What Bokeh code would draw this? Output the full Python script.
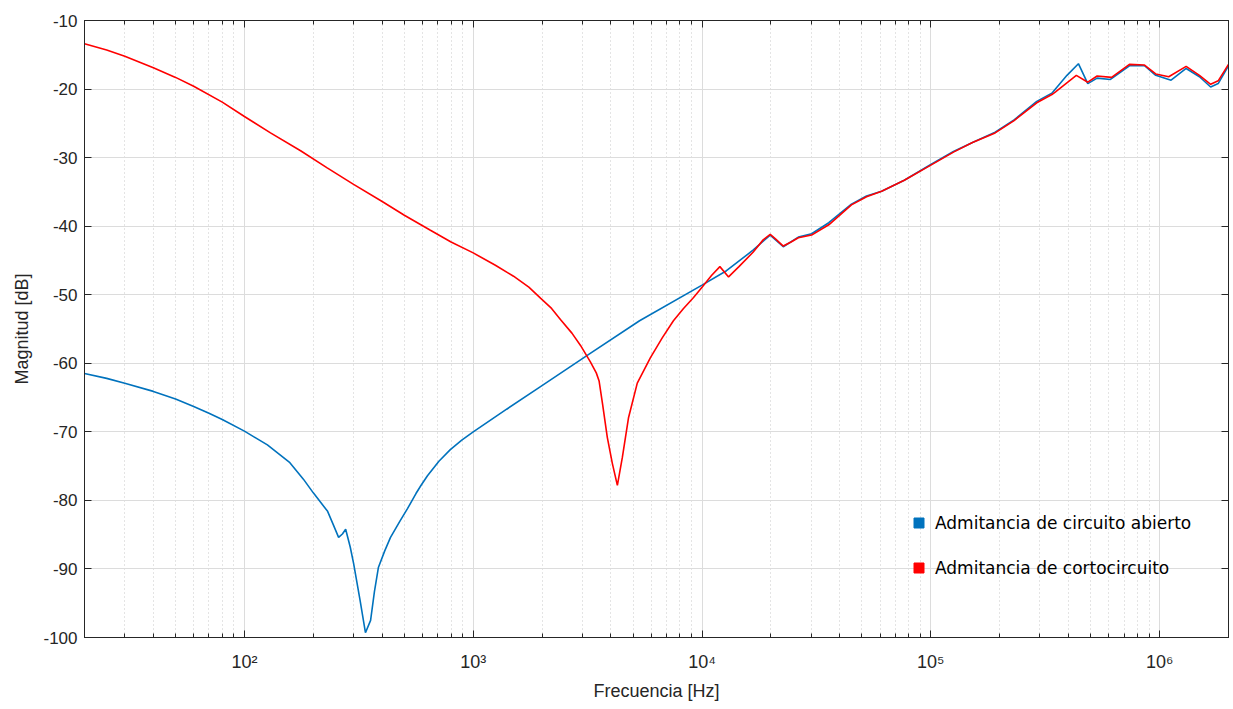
from bokeh.plotting import figure
from bokeh.models import (Range1d, FixedTicker, LogAxis, LinearAxis, Legend, LegendItem,
                          CustomJSTickFormatter)
from bokeh.embed import file_html
from bokeh.resources import INLINE

# ---- data ----
freq_open = [20, 25, 30, 40, 50, 60, 70, 80, 100, 126, 158, 181, 200, 231, 245, 258, 268,
             277, 290, 300, 320, 338, 356, 370, 385, 410, 435, 479, 516, 562, 589, 631,
             708, 794, 891, 1000, 1400, 1968, 3162, 5333, 10000, 12790,
             16710, 19860, 22650, 26360, 30130, 35810, 44980, 52360, 60950, 76560,
             100000, 125600, 152100, 191000, 231200, 290400, 338100, 393600, 441600,
             485300, 533300, 609500, 738000, 859000, 961600, 1122000, 1306000,
             1493000, 1671000, 1803000, 2000000]
mag_open = [-61.5, -62.2, -62.9, -64.1, -65.2, -66.3, -67.3, -68.2, -69.9, -71.9, -74.5,
            -76.9, -78.9, -81.6, -83.6, -85.4, -84.9, -84.2, -86.8, -89.2, -94.5, -99.3,
            -97.5, -93.3, -89.8, -87.4, -85.4, -83.0, -81.2, -79.0, -77.9, -76.4,
            -74.3, -72.6, -71.2, -70.0, -66.7, -63.4, -58.8, -53.8, -48.6, -46.5, -43.5,
            -41.3, -43.0, -41.6, -41.1, -39.5, -36.8, -35.6, -34.9, -33.3, -31.0, -29.1,
            -27.8, -26.3, -24.5, -21.8, -20.6, -18.0, -16.3, -19.2, -18.4, -18.6, -16.6,
            -16.6, -18.0, -18.7, -17.0, -18.2, -19.7, -19.2, -16.6]

freq_short = [20, 25, 30, 40, 50, 60, 80, 100, 130, 176, 230, 300, 400, 500, 650, 800,
              1000, 1250, 1500, 1750, 1968, 2200, 2405, 2700, 2944, 3251, 3450, 3550,
              3673, 3855, 4055, 4266, 4487, 4775, 5212, 5943, 6700, 7499, 8300, 9183,
              10000, 11000, 11970, 13060, 14500, 16710, 18500, 19860, 21000, 22650,
              24500, 26360, 30130, 35810, 44980, 52360,
              60950, 76560, 100000, 125600, 152100, 191000, 231200, 290400, 338100,
              350800, 432500, 485300, 533300, 616600, 738000, 859000, 961600, 1096000,
              1306000, 1493000, 1671000, 1803000, 2000000]
mag_short = [-13.4, -14.3, -15.2, -16.9, -18.3, -19.6, -21.9, -24.0, -26.4, -29.0, -31.5,
             -33.9, -36.4, -38.4, -40.6, -42.3, -43.9, -45.7, -47.3, -48.9, -50.5, -52.0,
             -53.6, -55.6, -57.4, -59.8, -61.4, -62.6, -65.9, -70.8, -74.6, -77.8, -73.7,
             -67.9, -62.9, -59.2, -56.3, -53.8, -52.0, -50.4, -48.9, -47.2, -45.9, -47.4,
             -45.9, -43.8, -42.0, -41.2, -41.9, -42.9, -42.3, -41.7, -41.3, -39.8, -36.9,
             -35.7, -34.9, -33.3, -31.1, -29.2, -27.8, -26.4, -24.6, -22.0, -20.8, -20.4,
             -18.0, -19.0, -18.1, -18.3, -16.4, -16.5, -17.8, -18.2, -16.7, -18.0, -19.3,
             -18.8, -16.4]

series_labels = ["Admitancia de circuito abierto", "Admitancia de cortocircuito"]
series_colors = ["#0072BD", "#FF0000"]

x_major = [1e2, 1e3, 1e4, 1e5, 1e6]
y_major = [-100, -90, -80, -70, -60, -50, -40, -30, -20, -10]
x_minor = [k * d for d in [1e1, 1e2, 1e3, 1e4, 1e5, 1e6] for k in range(2, 10)
           if 20 <= k * d <= 2e6]

AX = "#262626"
FONT = "Liberation Sans"

p = figure(width=1233, height=709, x_axis_type="log",
           x_range=Range1d(20, 2e6), y_range=Range1d(-100, -10),
           output_backend="svg", toolbar_location=None,
           min_border_left=84, min_border_right=5, min_border_top=20, min_border_bottom=72)
p.background_fill_color = "white"
p.border_fill_color = "white"
p.outline_line_color = AX
p.outline_line_width = 1

xfmt = CustomJSTickFormatter(code="""
const sup = {'0':'\u2070','1':'\u00b9','2':'\u00b2','3':'\u00b3','4':'\u2074','5':'\u2075','6':'\u2076','7':'\u2077','8':'\u2078','9':'\u2079','-':'\u207b'};
const e = Math.round(Math.log10(tick));
return '10' + String(e).split('').map(c => sup[c]).join('');
""")
yfmt = CustomJSTickFormatter(code="return String(Math.round(tick));")

xt = FixedTicker(ticks=x_major, minor_ticks=x_minor)
yt = FixedTicker(ticks=y_major, minor_ticks=[])

def style_axis(ax, labels=True):
    ax.axis_line_color = AX
    ax.major_tick_line_color = AX
    ax.minor_tick_line_color = AX
    ax.major_tick_in = 7
    ax.major_tick_out = 0
    ax.minor_tick_in = 4
    ax.minor_tick_out = 0
    ax.major_label_text_font = FONT
    ax.major_label_text_color = AX
    ax.major_label_text_font_size = "17px"
    ax.axis_label_text_font = FONT
    ax.axis_label_text_font_style = "normal"
    ax.axis_label_text_color = AX
    ax.axis_label_text_font_size = "18px"
    if not labels:
        ax.major_label_text_font_size = "1px"
        ax.major_label_text_alpha = 0
        ax.major_label_standoff = 0

xa = p.xaxis[0]
xa.ticker = xt
xa.formatter = xfmt
xa.axis_label = "Frecuencia [Hz]"
style_axis(xa)
xa.major_label_text_font_size = "18px"
xa.major_label_standoff = 14
xa.axis_label_standoff = 6

ya = p.yaxis[0]
ya.ticker = yt
ya.formatter = yfmt
ya.axis_label = "Magnitud [dB]"
style_axis(ya)
ya.major_label_standoff = 7
ya.axis_label_standoff = 8
ya.minor_tick_line_color = None

top = LogAxis(ticker=FixedTicker(ticks=x_major, minor_ticks=x_minor), formatter=xfmt)
style_axis(top, labels=False)
p.add_layout(top, "above")
right = LinearAxis(ticker=FixedTicker(ticks=y_major, minor_ticks=[]), formatter=yfmt)
style_axis(right, labels=False)
right.minor_tick_line_color = None
p.add_layout(right, "right")

p.xgrid.ticker = xt
p.xgrid.grid_line_color = "#dcdcdc"
p.xgrid.minor_grid_line_color = "#c8c8c8"
p.xgrid.minor_grid_line_dash = "1 3"
p.ygrid.ticker = yt
p.ygrid.grid_line_color = "#dcdcdc"

p.line(freq_open, mag_open, line_color=series_colors[0], line_width=1.6)
p.line(freq_short, mag_short, line_color=series_colors[1], line_width=1.6)

# legend-only square markers (y is NaN, so nothing is drawn in the plot area)
nan = float("nan")
leg_r0 = p.scatter(x=[freq_open[0]], y=[nan], marker="square", size=10, color=series_colors[0])
leg_r1 = p.scatter(x=[freq_short[0]], y=[nan], marker="square", size=10, color=series_colors[1])

legend = Legend(items=[LegendItem(label=series_labels[0], renderers=[leg_r0]),
                       LegendItem(label=series_labels[1], renderers=[leg_r1])],
                location=(822, 57), orientation="vertical")
legend.border_line_color = None
legend.background_fill_alpha = 0
legend.padding = 0
legend.margin = 0
legend.spacing = 20
legend.glyph_width = 25
legend.glyph_height = 25
legend.label_height = 25
legend.label_standoff = 4
legend.label_text_font = "DejaVu Sans"
legend.label_text_font_size = "17px"
legend.label_text_color = "black"
p.add_layout(legend)

open("out.html", "w").write(file_html(p, INLINE))
